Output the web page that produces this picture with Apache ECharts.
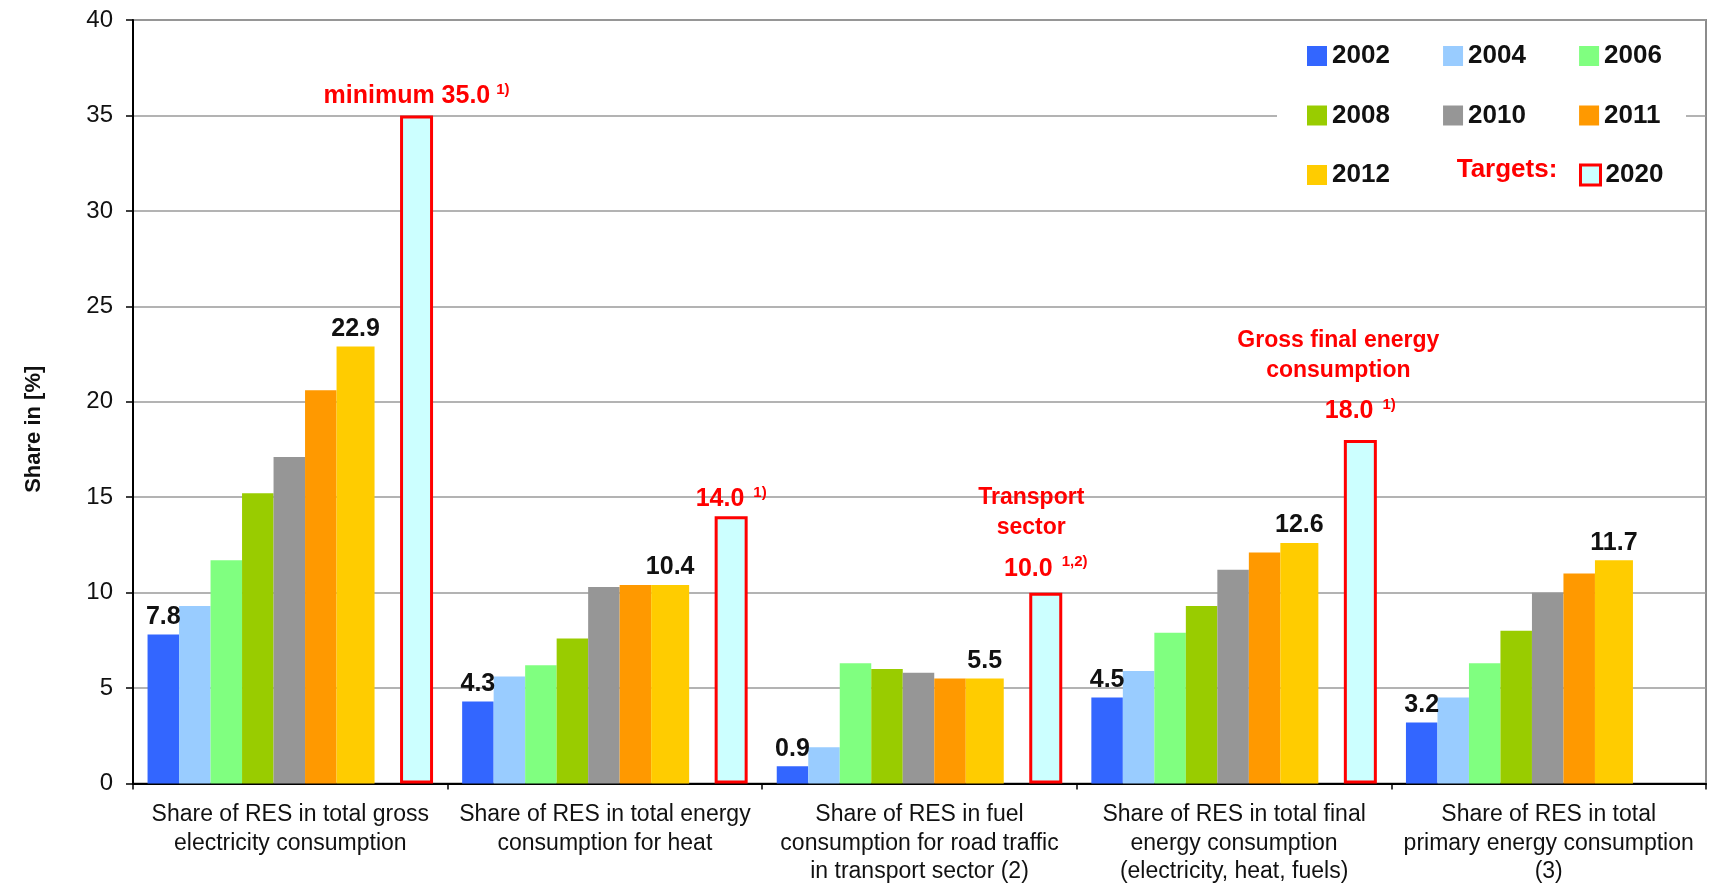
<!DOCTYPE html>
<html>
<head>
<meta charset="utf-8">
<script src="https://cdn.jsdelivr.net/npm/echarts@6/dist/echarts.min.js"></script>
<style>
  html, body { margin: 0; padding: 0; background: #ffffff; }
  #chart { width: 1711px; height: 886px; }
</style>
</head>
<body>
<div id="chart"></div>
<script>
// Categories (x axis)
const categories = [
  'Share of RES in total gross\nelectricity consumption',
  'Share of RES in total energy\nconsumption for heat',
  'Share of RES in fuel\nconsumption for road traffic\nin transport sector (2)',
  'Share of RES in total final\nenergy consumption\n(electricity, heat, fuels)',
  'Share of RES in total\nprimary energy consumption\n(3)'
];

// Share of renewable energy sources, in %
const years = ['2002', '2004', '2006', '2008', '2010', '2011', '2012'];
const share2002 = [7.8, 4.3, 0.9, 4.5, 3.2];
const share2004 = [9.3, 5.6, 1.9, 5.9, 4.5];
const share2006 = [11.7, 6.2, 6.3, 7.9, 6.3];
const share2008 = [15.2, 7.6, 6.0, 9.3, 8.0];
const share2010 = [17.1, 10.3, 5.8, 11.2, 10.0];
const share2011 = [20.6, 10.4, 5.5, 12.1, 11.0];
const share2012 = [22.9, 10.4, 5.5, 12.6, 11.7];

// 2020 targets
const targetYear = '2020';
const targets2020 = [35.0, 14.0, 10.0, 18.0, null];
const targetNotes = ['minimum', '', 'Transport\nsector', 'Gross final energy\nconsumption', ''];
const targetFootnotes = ['1)', '1)', '1,2)', '1)', ''];

// Y axis scale
const yMin = 0, yMax = 40, yStep = 5;

// ---- styles ----
const FONT = "'Liberation Sans', Arial, sans-serif";
const RED = '#FF0000';
const yearColors = ['#3366FF', '#99CCFF', '#80FF80', '#99CC00', '#969696', '#FF9900', '#FFCC00'];
const yearBarWidths = [31.5, 31.5, 31.5, 31.5, 31.5, 31.5, 38];
const labelledYears = ['2002', '2012'];
const targetLabelGap = [5, 3, 10, 15, 5];

const seriesValues = [share2002, share2004, share2006, share2008, share2010, share2011, share2012];

const yearSeries = years.map((y, k) => ({
  name: y,
  type: 'bar',
  barGap: '0%',
  barWidth: yearBarWidths[k],
  data: seriesValues[k],
  itemStyle: { color: yearColors[k] },
  label: {
    show: labelledYears.indexOf(y) >= 0,
    position: 'top',
    distance: 5,
    formatter: p => p.value.toFixed(1),
    fontFamily: FONT,
    fontSize: 25,
    fontWeight: 'bold',
    color: '#111'
  }
}));

// empty slot separating the measured years from the target bar
const spacerSeries = {
  name: 'spacer',
  type: 'bar',
  barGap: '0%',
  barWidth: 25.5,
  silent: true,
  data: categories.map(() => null)
};

const redText = { fontFamily: FONT, fontWeight: 'bold', color: RED, align: 'center' };
const noteLine = (padRight, lh) => Object.assign(
  { fontSize: 23, lineHeight: lh, height: 30, verticalAlign: 'top', padding: [0, padRight, 0, 0] }, redText);

const targetSeries = {
  name: targetYear,
  type: 'bar',
  barGap: '0%',
  barWidth: 33,
  z: 3,
  itemStyle: { color: '#CCFFFF', borderColor: RED, borderWidth: 3 },
  data: targets2020.map((v, i) => ({ value: v, label: { distance: targetLabelGap[i] } })),
  label: {
    show: true,
    position: 'top',
    formatter: p => {
      const i = p.dataIndex;
      if (p.value == null) return '';
      const num = Number(p.value).toFixed(1);
      if (i === 0) return '{m|' + targetNotes[i] + ' ' + num + '}{s0|' + targetFootnotes[i] + '}';
      const sup = '{s|' + targetFootnotes[i] + '}';
      if (!targetNotes[i]) return '{v|' + num + '}' + sup;
      const k = i === 2 ? 'a' : 'b';
      const lines = targetNotes[i].split('\n');
      return lines.map((t, j) => '{' + k + (j === lines.length - 1 ? 'L' : '') + '|' + t + '}').join('\n')
        + '\n{v|' + num + '}' + sup;
    },
    rich: {
      m: Object.assign({ fontSize: 25, lineHeight: 28 }, redText),
      v: Object.assign({ fontSize: 25, lineHeight: 28 }, redText),
      s: Object.assign({ fontSize: 15, lineHeight: 16, verticalAlign: 'top', padding: [0, 0, 0, 9] }, redText),
      s0: Object.assign({ fontSize: 15, lineHeight: 16, verticalAlign: 'top', padding: [0, 0, 0, 6] }, redText),
      a: noteLine(29, 30),
      aL: noteLine(29, 42),
      b: noteLine(44, 30),
      bL: noteLine(44, 41)
    }
  }
};

const legendBase = {
  orient: 'horizontal',
  icon: 'rect',
  itemWidth: 20,
  itemHeight: 20,
  itemGap: 53.2,
  padding: 0,
  selectedMode: false,
  z: 6,
  textStyle: { fontFamily: FONT, fontSize: 26, fontWeight: 'bold', color: '#111' }
};

const chart = echarts.init(document.getElementById('chart'), null, { renderer: 'canvas' });
chart.setOption({
  backgroundColor: '#ffffff',
  animation: false,
  textStyle: { fontFamily: FONT },
  grid: {
    left: 133, right: 5, top: 20, bottom: 101,
    show: true, borderColor: '#8c8c8c', borderWidth: 2, backgroundColor: 'transparent'
  },
  legend: [
    Object.assign({}, legendBase, { left: 1307, top: 43, data: years.slice(0, 3) }),
    Object.assign({}, legendBase, { left: 1307, top: 102.5, data: years.slice(3, 6) }),
    Object.assign({}, legendBase, { left: 1307, top: 162, data: years.slice(6) }),
    Object.assign({}, legendBase, {
      left: 1579, top: 162,
      data: [{ name: targetYear, itemStyle: { color: '#CCFFFF', borderColor: RED, borderWidth: 3 } }]
    })
  ],
  graphic: [
    {
      type: 'rect', z: 5, silent: true,
      shape: { x: 1277, y: 28, width: 409, height: 176 },
      style: { fill: '#ffffff' }
    },
    {
      type: 'text', z: 6, silent: true,
      x: 1507, y: 170,
      style: {
        text: 'Targets:', fill: RED, font: "bold 26px 'Liberation Sans', Arial, sans-serif",
        textAlign: 'center', textVerticalAlign: 'middle'
      }
    }
  ],
  xAxis: {
    type: 'category',
    data: categories,
    axisLine: { lineStyle: { color: '#000', width: 2 } },
    axisTick: { show: true, length: 6, interval: 0, lineStyle: { color: '#000', width: 1.5 } },
    axisLabel: {
      interval: 0, margin: 17, fontFamily: FONT, fontSize: 23, lineHeight: 28.5, color: '#111'
    },
    splitLine: { show: false }
  },
  yAxis: {
    type: 'value',
    min: yMin, max: yMax, interval: yStep,
    name: 'Share in [%]',
    nameLocation: 'middle',
    nameRotate: 90,
    nameGap: 88,
    nameTextStyle: { fontFamily: FONT, fontSize: 22, fontWeight: 'bold', color: '#111', padding: [0, 55, 0, 0] },
    axisLine: { show: true, lineStyle: { color: '#000', width: 2 } },
    axisTick: { show: true, length: 7, lineStyle: { color: '#000', width: 1.5 } },
    axisLabel: { margin: 20, fontFamily: FONT, fontSize: 24, color: '#111' },
    splitLine: { show: true, lineStyle: { color: '#9a9a9a', width: 1.5 } }
  },
  series: yearSeries.concat([spacerSeries, targetSeries])
});
</script>
</body>
</html>
